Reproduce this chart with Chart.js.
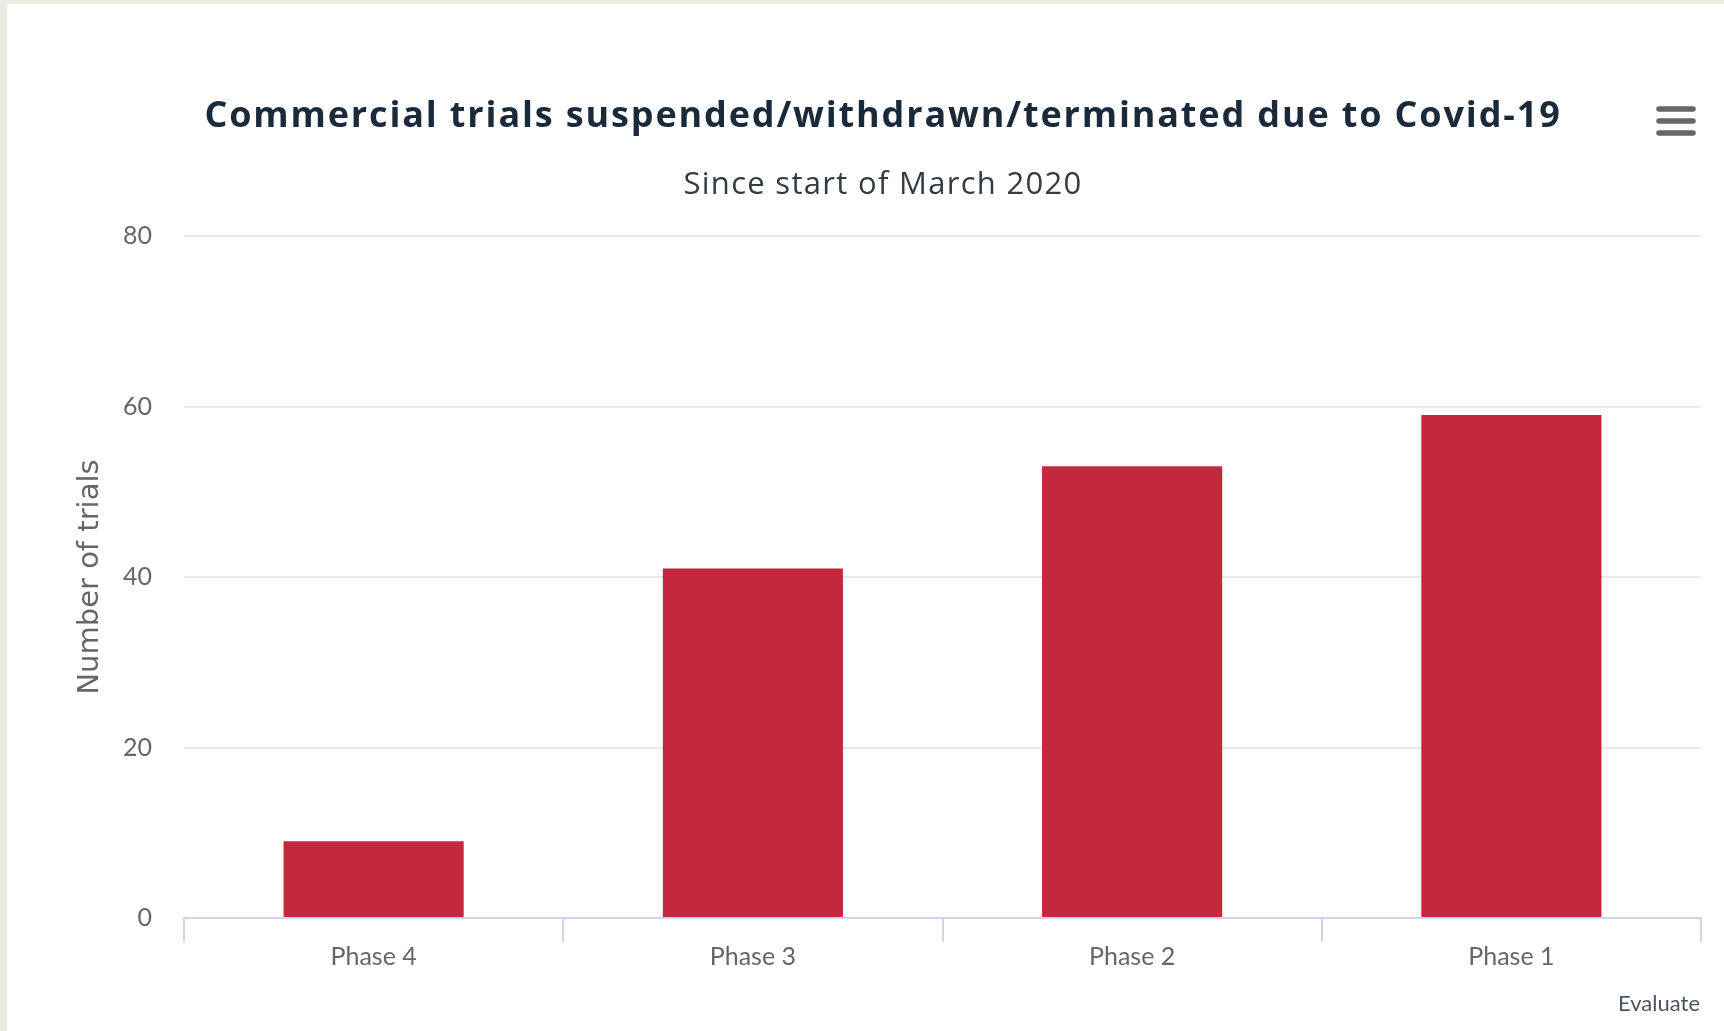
<!DOCTYPE html>
<html>
<head>
<meta charset="utf-8">
<script src="https://cdn.jsdelivr.net/npm/chart.js@4/dist/chart.umd.min.js"></script>
<style>
    html, body { margin: 0; padding: 0; background: #eeebe4; overflow: hidden; }
    #tarjeta {
        position: absolute;
        left: 7px;
        top: 4px;
        width: 1717px;
        height: 1027px;
        background: #ffffff;
    }
</style>
</head>
<body>
<div id="tarjeta"><canvas id="graficoBarras"></canvas></div>
<script>
// Datos del gráfico
const categorias = ['Phase 4', 'Phase 3', 'Phase 2', 'Phase 1'];
const ensayos = [9, 41, 53, 59];
const ticksEjeY = [0, 20, 40, 60, 80];

const tituloTexto = 'Commercial trials suspended/withdrawn/terminated due to Covid-19';
const subtituloTexto = 'Since start of March 2020';
const creditoTexto = 'Evaluate';

/**
 * Dibuja título, subtítulo, menú (hamburguesa) y el crédito de la fuente.
 * El título va aparte porque la fuente original es más ancha que las disponibles.
 */
const pluginExtras = {
    id: 'extras',
    afterDraw(chart) {
        const ctx = chart.ctx;
        const centroX = 876;
        ctx.save();
        ctx.textAlign = 'center';
        ctx.textBaseline = 'middle';

        // título y subtítulo
        ctx.letterSpacing = '1.85px';
        ctx.fillStyle = '#1b2a3a';
        ctx.font = 'bold 36px "Open Sans"';
        ctx.fillText(tituloTexto, centroX, 113);

        ctx.letterSpacing = '1.3px';
        ctx.fillStyle = '#333c44';
        ctx.font = '31px "Open Sans"';
        ctx.fillText(subtituloTexto, centroX, 181);
        ctx.letterSpacing = '0px';

        // icono de menú
        ctx.strokeStyle = '#666666';
        ctx.lineWidth = 5.5;
        ctx.lineCap = 'round';
        [105, 117, 129].forEach((y) => {
            ctx.beginPath();
            ctx.moveTo(1652, y);
            ctx.lineTo(1686, y);
            ctx.stroke();
        });

        // crédito
        ctx.fillStyle = '#4a5560';
        ctx.font = '22px Lato';
        ctx.textAlign = 'right';
        ctx.fillText(creditoTexto, 1693, 1000);
        ctx.restore();
    },
};

const ctx = document.getElementById('graficoBarras').getContext('2d');
new Chart(ctx, {
    type: 'bar',
    data: {
        labels: categorias,
        datasets: [
            {
                label: 'Number of trials',
                data: ensayos,
                backgroundColor: '#c4293b',
                borderWidth: 0,
                categoryPercentage: 1,
                barPercentage: 0.475,
            },
        ],
    },
    options: {
        responsive: true,
        maintainAspectRatio: false,
        animation: false,
        devicePixelRatio: 1,
        layout: { padding: { left: 56, right: 23, top: 232, bottom: 53 } },
        plugins: {
            legend: { display: false },
            tooltip: { enabled: false },
        },
        scales: {
            x: {
                offset: true,
                grid: {
                    offset: true,
                    drawOnChartArea: false,
                    drawTicks: true,
                    tickLength: 24,
                    color: '#ccd6eb',
                    lineWidth: 2,
                },
                border: { display: true, color: '#ccd6eb', width: 2 },
                ticks: {
                    padding: 0,
                    color: '#666666',
                    font: { family: 'Lato', size: 25 },
                },
                afterFit(escala) {
                    escala.height = 60;
                },
            },
            y: {
                min: 0,
                max: 80,
                afterBuildTicks(escala) {
                    escala.ticks = ticksEjeY.map((v) => ({ value: v }));
                },
                grid: { color: '#e9e9e9', lineWidth: 2, drawTicks: false },
                border: { display: false },
                ticks: {
                    padding: 32,
                    color: '#666666',
                    font: { family: 'Lato', size: 25 },
                },
                title: {
                    display: true,
                    text: 'Number of trials',
                    color: '#666666',
                    font: { family: 'DejaVu Sans', size: 29, lineHeight: 1.2 },
                    padding: { top: 10, bottom: 0 },
                },
                afterFit(escala) {
                    escala.width = 121;
                },
            },
        },
    },
    plugins: [pluginExtras],
});
</script>
</body>
</html>
